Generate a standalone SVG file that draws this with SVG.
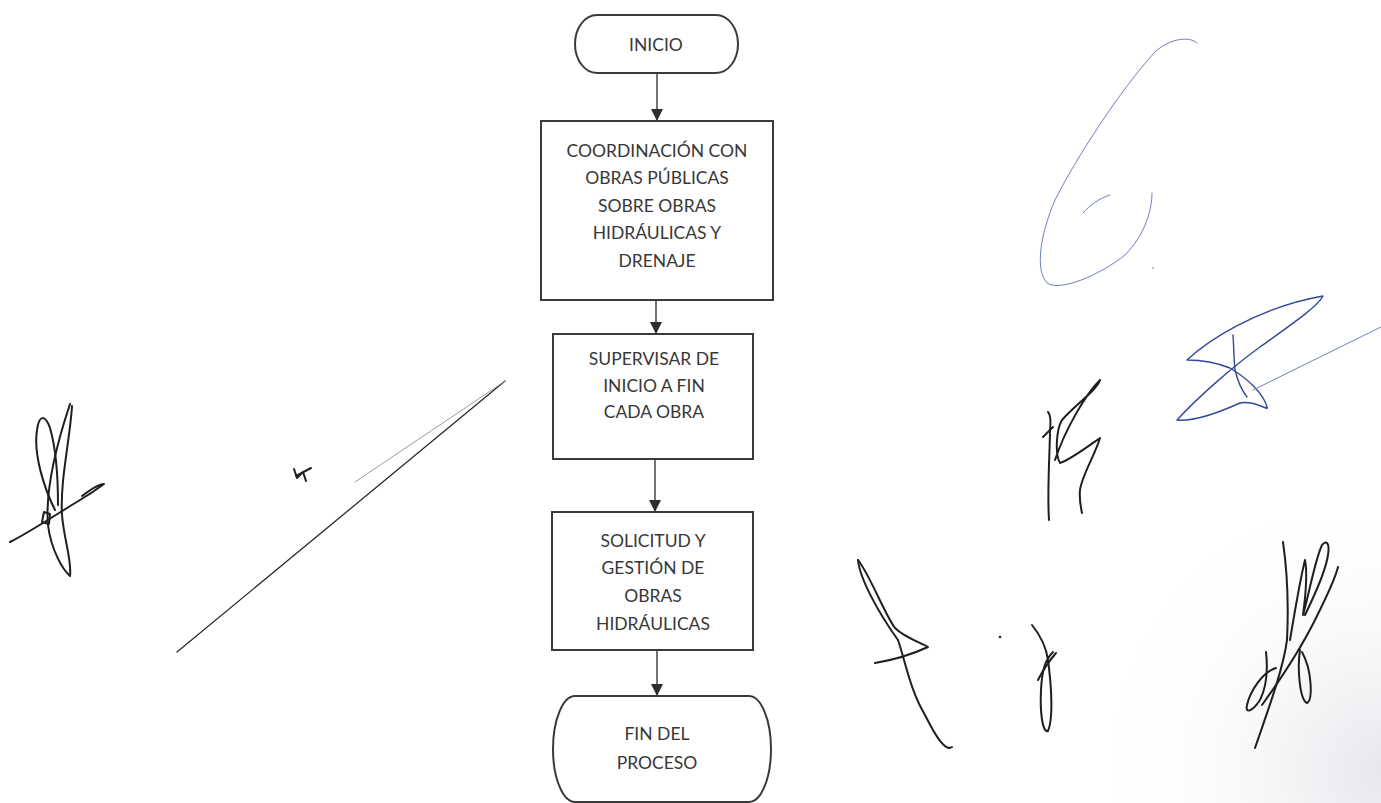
<svg xmlns="http://www.w3.org/2000/svg" width="1381" height="803" viewBox="0 0 1381 803">
  <style>
    .shape { fill: #ffffff; stroke: #3a3a3a; stroke-width: 2; }
    .label { font-family: Lato, "Liberation Sans", sans-serif; font-size: 17.5px; fill: #383838; text-anchor: middle; }
    .edge { stroke: #3a3a3a; stroke-width: 1.4; fill: none; marker-end: url(#arrow); }
    .ink { fill: none; stroke: #1f1f1f; stroke-width: 2; stroke-linecap: round; stroke-linejoin: round; }
    .ink-thin { fill: none; stroke: #2a2a2a; stroke-width: 1.3; stroke-linecap: round; }
    .ink-faint { fill: none; stroke: #9a9a9a; stroke-width: 1; stroke-linecap: round; }
    .blue { fill: none; stroke: #34489a; stroke-width: 1.4; stroke-linecap: round; stroke-linejoin: round; }
    .blue-light { fill: none; stroke: #6f7fbf; stroke-width: 1; stroke-linecap: round; }
  </style>
  <defs>
    <marker id="arrow" viewBox="0 0 10 10" refX="10" refY="5" markerWidth="13" markerHeight="12" markerUnits="userSpaceOnUse" orient="auto">
      <path d="M0,0 L10,5 L0,10 Z" fill="#2e2e2e"/>
    </marker>
    <radialGradient id="scanShade" cx="1381" cy="770" r="280" gradientUnits="userSpaceOnUse">
      <stop offset="0" stop-color="#e4e4ea" stop-opacity="0.9"/>
      <stop offset="1" stop-color="#ffffff" stop-opacity="0"/>
    </radialGradient>
  </defs>

  <!-- paper -->
  <rect x="0" y="0" width="1381" height="803" fill="#ffffff"/>
  <rect x="1080" y="520" width="301" height="283" fill="url(#scanShade)"/>

  <!-- connectors -->
  <g id="connectors">
    <line class="edge" x1="657" y1="73" x2="657" y2="121"/>
    <line class="edge" x1="656" y1="300" x2="656" y2="334"/>
    <line class="edge" x1="655" y1="459" x2="655" y2="512"/>
    <line class="edge" x1="657" y1="650" x2="657" y2="696"/>
  </g>

  <!-- start terminator -->
  <g id="node-inicio">
    <rect class="shape" x="575" y="15" width="163" height="58" rx="22" ry="29"/>
    <text class="label" x="656" y="51">INICIO</text>
  </g>

  <!-- process steps -->
  <g id="node-coordinacion">
    <rect class="shape" x="541" y="121" width="232" height="179"/>
    <text class="label" x="657" y="157">COORDINACIÓN CON</text>
    <text class="label" x="657" y="184">OBRAS PÚBLICAS</text>
    <text class="label" x="657" y="212">SOBRE OBRAS</text>
    <text class="label" x="657" y="239">HIDRÁULICAS Y</text>
    <text class="label" x="657" y="267">DRENAJE</text>
  </g>

  <g id="node-supervisar">
    <rect class="shape" x="553" y="334" width="200" height="125"/>
    <text class="label" x="654" y="365">SUPERVISAR DE</text>
    <text class="label" x="654" y="392">INICIO A FIN</text>
    <text class="label" x="654" y="418">CADA OBRA</text>
  </g>

  <g id="node-solicitud">
    <rect class="shape" x="552" y="512" width="201" height="138"/>
    <text class="label" x="653" y="547">SOLICITUD Y</text>
    <text class="label" x="653" y="574">GESTIÓN DE</text>
    <text class="label" x="653" y="602">OBRAS</text>
    <text class="label" x="653" y="630">HIDRÁULICAS</text>
  </g>

  <!-- end terminator -->
  <g id="node-fin">
    <rect class="shape" x="553" y="696" width="218" height="106" rx="22" ry="53"/>
    <text class="label" x="657" y="740">FIN DEL</text>
    <text class="label" x="657" y="769">PROCESO</text>
  </g>

  <!-- handwritten signatures -->
  <g id="signature-left">
    <path class="ink" d="M55 510 C45 490 33 455 37 430 C39 415 45 414 50 428 C55 445 58 475 58 505"/>
    <path class="ink" d="M70 404 C58 440 45 490 48 525 C51 550 63 570 70 576 C72 560 64 540 62 515 C60 480 70 440 72 406"/>
    <path class="ink" d="M10 542 C30 532 60 512 80 500 C90 494 100 487 104 484 C100 484 90 490 82 496"/>
    <path class="ink" d="M42 522 L44 512 L50 514 L49 524 Z"/>
  </g>
  <g id="mark-left">
    <path class="ink" d="M294 469 L297 478 L303 472 L306 481 M296 476 L311 468"/>
    <path class="ink-thin" d="M177 652 L505 381"/>
    <path class="ink-faint" d="M355 482 C420 438 470 405 505 381"/>
  </g>

  <g id="signature-blue-top">
    <path class="blue-light" d="M1197 43 C1190 36 1170 38 1155 52 C1120 90 1075 160 1055 200 C1040 235 1035 270 1047 283 C1060 292 1100 275 1125 255 C1145 235 1152 210 1152 193"/>
    <path class="blue-light" d="M1083 213 C1090 205 1100 198 1110 195"/>
    <circle cx="1153" cy="268" r="0.8" fill="#6f7fbf"/>
  </g>

  <g id="signature-blue-x">
    <path class="blue" d="M1187 360 C1205 343 1255 308 1323 296 C1318 306 1295 322 1260 347 C1235 365 1200 395 1177 420 C1195 422 1220 412 1240 403 C1255 400 1270 412 1267 407 C1264 395 1250 380 1230 368 C1215 362 1200 360 1187 360"/>
    <path class="blue" d="M1233 335 C1234 350 1234 362 1235 370 C1238 382 1243 392 1247 397"/>
    <path class="blue-light" d="M1253 390 L1381 327"/>
  </g>

  <g id="signature-r">
    <path class="ink" d="M1049 520 C1047 490 1050 450 1050 430 C1051 420 1050 414 1048 412"/>
    <path class="ink" d="M1043 437 L1053 427"/>
    <path class="ink" d="M1055 460 C1065 430 1085 395 1100 380 C1097 390 1075 405 1062 420 C1056 430 1055 455 1060 463 C1070 460 1090 445 1100 438 C1095 455 1082 475 1080 490 C1079 500 1081 508 1082 513"/>
  </g>

  <g id="signature-bottom-a">
    <path class="ink" d="M858 560 C870 575 885 615 895 628 C905 638 922 643 928 647 C915 653 893 660 875 663"/>
    <path class="ink" d="M858 560 C860 580 880 615 898 640 C905 660 910 690 925 715 C935 735 945 752 952 747"/>
  </g>

  <g id="signature-bottom-g">
    <circle cx="1000" cy="637" r="1.3" fill="#222222"/>
    <path class="ink" d="M1032 625 C1040 635 1046 645 1048 660 C1052 690 1053 720 1048 731 C1042 733 1040 710 1041 690 C1042 670 1045 660 1053 652"/>
    <path class="ink" d="M1038 680 C1043 670 1050 660 1056 653"/>
  </g>

  <g id="signature-bottom-right">
    <path class="ink" d="M1283 542 C1287 570 1289 600 1287 640 C1283 670 1268 710 1255 748"/>
    <path class="ink" d="M1276 668 C1262 672 1250 692 1247 705 C1245 714 1252 712 1260 700 C1266 688 1268 670 1266 652"/>
    <path class="ink" d="M1300 650 C1297 670 1300 700 1307 703 C1313 700 1312 670 1302 652"/>
    <path class="ink" d="M1262 705 C1280 680 1300 650 1315 620 C1325 600 1335 580 1338 567"/>
    <path class="ink" d="M1290 640 C1295 610 1300 580 1305 560 C1308 575 1305 600 1303 615 C1310 590 1315 560 1322 545 C1326 540 1330 542 1328 555 C1325 575 1312 600 1305 615"/>
  </g>
</svg>
